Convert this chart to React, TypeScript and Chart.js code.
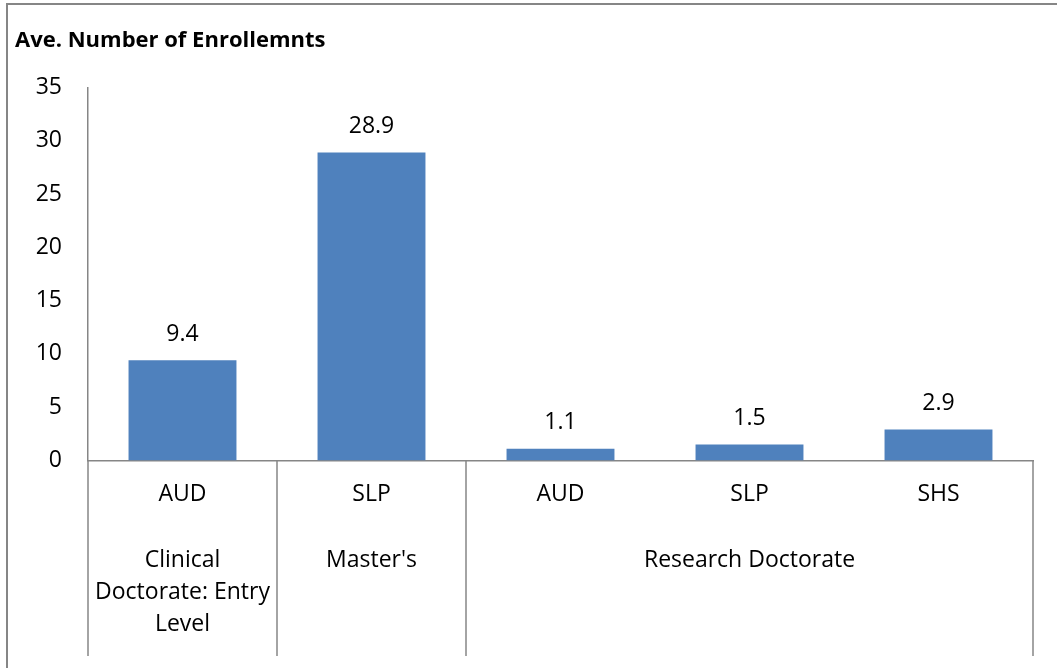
import React, { useEffect, useRef } from "react";
import { Chart, registerables } from "chart.js";

Chart.register(...registerables);

const subCategories = ["AUD", "SLP", "AUD", "SLP", "SHS"];
const values = [9.4, 28.9, 1.1, 1.5, 2.9];
const groupLabels = [["Clinical", "Doctorate: Entry", "Level"], ["Master's"], ["Research Doctorate"]];
const groupSpans = [1, 1, 3];
const yMin = 0;
const yMax = 35;
const yStep = 5;
const chartTitle = "Ave. Number of Enrollemnts";

const FONT = '"Open Sans", "Noto Sans", sans-serif';
const AXIS_GRAY = "#868686";
const LABEL_SIZE = 23;

const framePlugin = {
  id: "frame",
  afterDraw(chart: any) {
    const ctx = chart.ctx;
    ctx.save();
    ctx.strokeStyle = AXIS_GRAY;
    ctx.lineWidth = 2;
    ctx.beginPath();
    ctx.moveTo(7, chart.height + 5);
    ctx.lineTo(7, 4);
    ctx.lineTo(chart.width + 5, 4);
    ctx.stroke();
    ctx.fillStyle = "#000";
    ctx.font = `bold 22px ${FONT}`;
    ctx.textAlign = "left";
    ctx.textBaseline = "middle";
    ctx.fillText(chartTitle, 15, 41);
    ctx.restore();
  },
};

const dataLabelPlugin = {
  id: "dataLabels",
  afterDatasetsDraw(chart: any) {
    const ctx = chart.ctx;
    const meta = chart.getDatasetMeta(0);
    ctx.save();
    ctx.fillStyle = "#000";
    ctx.font = `${LABEL_SIZE}px ${FONT}`;
    ctx.textAlign = "center";
    ctx.textBaseline = "middle";
    meta.data.forEach((el: any, i: number) => {
      ctx.fillText(values[i].toFixed(1), el.x, el.y - 26);
    });
    ctx.restore();
  },
};

const categoryAxisPlugin = {
  id: "categoryAxis",
  afterDraw(chart: any) {
    const ctx = chart.ctx;
    const xs = chart.scales.x;
    const top = chart.chartArea.bottom;
    const lineBottom = 656;
    const centers = subCategories.map((_, i) => xs.getPixelForValue(i));
    const edge = (i: number) => {
      if (i <= 0) return xs.left;
      if (i >= subCategories.length) return xs.right;
      return (centers[i - 1] + centers[i]) / 2;
    };
    ctx.save();
    ctx.fillStyle = "#000";
    ctx.font = `${LABEL_SIZE}px ${FONT}`;
    ctx.textAlign = "center";
    ctx.textBaseline = "middle";
    subCategories.forEach((lab, i) => {
      ctx.fillText(lab, centers[i], top + 34);
    });
    ctx.strokeStyle = AXIS_GRAY;
    ctx.lineWidth = 1.5;
    let start = 0;
    const drawDivider = (x: number) => {
      ctx.beginPath();
      ctx.moveTo(x, top);
      ctx.lineTo(x, lineBottom);
      ctx.stroke();
    };
    drawDivider(edge(0));
    groupLabels.forEach((lines, g) => {
      const end = start + groupSpans[g];
      const l = edge(start);
      const r = edge(end);
      const cx = (l + r) / 2;
      lines.forEach((line, k) => {
        ctx.fillText(line, cx, top + 100 + k * 32);
      });
      drawDivider(r);
      start = end;
    });
    ctx.restore();
  },
};

export default function App() {
  const canvasRef = useRef<HTMLCanvasElement | null>(null);

  useEffect(() => {
    let chart: any = null;
    let cancelled = false;
    const make = () => {
      if (cancelled || !canvasRef.current) return;
      chart = new Chart(canvasRef.current, {
        type: "bar",
        data: {
          labels: subCategories,
          datasets: [
            {
              data: values,
              backgroundColor: "#4F81BD",
              borderWidth: 0,
              categoryPercentage: 1,
              barPercentage: 0.571,
            },
          ],
        },
        options: {
          responsive: false,
          animation: false,
          layout: { padding: { top: 87.5, right: 24, bottom: 0, left: 0 } },
          plugins: {
            legend: { display: false },
            tooltip: { enabled: false },
            title: { display: false },
          },
          scales: {
            x: {
              grid: { display: false, drawTicks: false },
              border: { display: true, color: AXIS_GRAY, width: 1.5 },
              ticks: { display: false },
              afterFit: (s: any) => {
                s.height = 207.5;
              },
            },
            y: {
              min: yMin,
              max: yMax,
              grid: { display: false, drawTicks: false },
              border: { display: true, color: AXIS_GRAY, width: 1.5 },
              ticks: {
                stepSize: yStep,
                padding: 26,
                color: "#000",
                font: { family: FONT, size: LABEL_SIZE },
              },
              afterFit: (s: any) => {
                s.width = 88;
              },
            },
          },
        },
        plugins: [framePlugin, dataLabelPlugin, categoryAxisPlugin],
      });
    };
    const fontsReady = (document as any).fonts
      ? Promise.all([
          (document as any).fonts.load(`${LABEL_SIZE}px "Open Sans"`),
          (document as any).fonts.load(`bold 22px "Open Sans"`),
        ]).catch(() => null)
      : Promise.resolve(null);
    fontsReady.then(make);
    return () => {
      cancelled = true;
      if (chart) chart.destroy();
    };
  }, []);

  return (
    <div style={{ position: "fixed", left: 0, top: 0, width: 1057, height: 668, background: "#fff" }}>
      <canvas ref={canvasRef} width={1057} height={668} style={{ display: "block" }} />
    </div>
  );
}
